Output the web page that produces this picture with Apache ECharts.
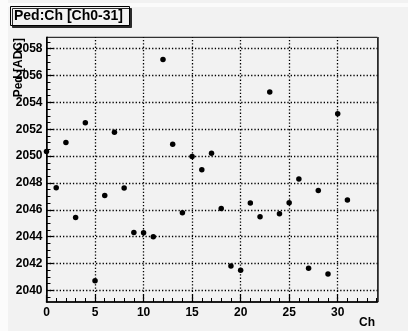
<!DOCTYPE html>
<html>
<head>
<meta charset="utf-8">
<script src="https://cdn.jsdelivr.net/npm/echarts@6/dist/echarts.min.js"></script>
<style>
  html, body { margin: 0; padding: 0; background: #f2f2f2; }
  #chart { width: 408px; height: 331px; }
</style>
</head>
<body>
<div id="chart"></div>
<script>
// Pedestal per channel, channels 0-31
const channels = [0, 1, 2, 3, 4, 5, 6, 7, 8, 9, 10, 11, 12, 13, 14, 15,
                  16, 17, 18, 19, 20, 21, 22, 23, 24, 25, 26, 27, 28, 29, 30, 31];
const pedestals = [2050.34, 2047.65, 2051.01, 2045.43, 2052.49, 2040.71, 2047.07, 2051.78,
                   2047.63, 2044.30, 2044.28, 2044.00, 2057.19, 2050.89, 2045.78, 2049.97,
                   2048.98, 2050.22, 2046.10, 2041.82, 2041.50, 2046.50, 2045.48, 2054.77,
                   2045.70, 2046.52, 2048.30, 2041.65, 2047.43, 2041.21, 2053.16, 2046.72];

// Axis ranges and tick positions
const xRange = [0, 34.1];
const yRange = [2039.13, 2058.85];
const xMajorTicks = [0, 5, 10, 15, 20, 25, 30];
const xMinorTicks = [1, 2, 3, 4, 6, 7, 8, 9, 11, 12, 13, 14, 16, 17, 18, 19,
                     21, 22, 23, 24, 26, 27, 28, 29, 31, 32, 33, 34];
const yMajorTicks = [2040, 2042, 2044, 2046, 2048, 2050, 2052, 2054, 2056, 2058];
const yMinorTicks = [2039.5, 2040.5, 2041, 2041.5, 2042.5, 2043, 2043.5, 2044.5, 2045, 2045.5,
                     2046.5, 2047, 2047.5, 2048.5, 2049, 2049.5, 2050.5, 2051, 2051.5,
                     2052.5, 2053, 2053.5, 2054.5, 2055, 2055.5, 2056.5, 2057, 2057.5, 2058.5];

const FONT = '"Liberation Sans", Arial, Helvetica, sans-serif';
const chart = echarts.init(document.getElementById('chart'), null, { renderer: 'canvas' });

const plain = v => String(v);
const dotted = { color: '#000', width: 1.3, type: [1.3, 2], opacity: 1 };

const option = {
  backgroundColor: '#f2f2f2',
  animation: false,
  title: {
    text: 'Ped:Ch [Ch0-31]',
    left: 10,
    top: 6,
    padding: [3, 7, 3, 4],
    backgroundColor: '#f2f2f2',
    borderColor: '#000',
    borderWidth: 1,
    shadowColor: '#2a2a2a',
    shadowOffsetX: 2,
    shadowOffsetY: 2,
    shadowBlur: 0,
    textStyle: { fontFamily: FONT, fontWeight: 'bold', fontSize: 14, color: '#000' }
  },
  graphic: [
    { type: 'rect', shape: { x: 0, y: 0, width: 8, height: 331 }, style: { fill: '#fbfbfb' }, z: -10 },
    { type: 'rect', shape: { x: 0, y: 3, width: 408, height: 4 }, style: { fill: '#fbfbfb' }, z: -10 },
    {
      type: 'text', x: 19, y: 38, rotation: Math.PI / 2,
      style: { text: 'Ped [ADC]', font: 'bold 12px ' + FONT, fill: '#000',
               align: 'right', verticalAlign: 'middle' }
    },
    {
      type: 'text', x: 375, y: 323,
      style: { text: 'Ch', font: 'bold 12px ' + FONT, fill: '#000',
               align: 'right', verticalAlign: 'middle' }
    },
    // right-hand frame shadow
    { type: 'rect', shape: { x: 377.5, y: 37, width: 1.5, height: 265 }, style: { fill: '#555' } }
  ],
  grid: {
    left: 46.5, right: 30.5, top: 37.3, bottom: 29,
    show: true, borderColor: '#000', borderWidth: 1, backgroundColor: 'transparent'
  },
  xAxis: [
    {
      type: 'value', min: xRange[0], max: xRange[1], position: 'bottom',
      axisLine: { show: true, lineStyle: { color: '#000', width: 1.5 } },
      axisTick: { show: true, inside: true, length: 7, customValues: xMajorTicks,
                  lineStyle: { color: '#000', width: 1.2 } },
      axisLabel: { show: true, customValues: xMajorTicks, margin: 5, color: '#000', formatter: plain,
                   fontFamily: FONT, fontWeight: 'bold', fontSize: 12 },
      splitLine: { show: false },
      z: 5
    },
    {
      type: 'value', min: xRange[0], max: xRange[1], position: 'bottom',
      axisLine: { show: false },
      axisTick: { show: true, inside: true, length: 4, customValues: xMinorTicks,
                  lineStyle: { color: '#000', width: 1 } },
      axisLabel: { show: false },
      splitLine: { show: false }
    }
  ],
  yAxis: [
    {
      type: 'value', min: yRange[0], max: yRange[1], position: 'left',
      axisLine: { show: true, lineStyle: { color: '#000', width: 1.5 } },
      axisTick: { show: true, inside: true, length: 7, customValues: yMajorTicks,
                  lineStyle: { color: '#000', width: 1.2 } },
      axisLabel: { show: true, customValues: yMajorTicks, margin: 4, color: '#000', formatter: plain,
                   fontFamily: FONT, fontWeight: 'bold', fontSize: 12 },
      splitLine: { show: false },
      z: 5
    },
    {
      type: 'value', min: yRange[0], max: yRange[1], position: 'left',
      axisLine: { show: false },
      axisTick: { show: true, inside: true, length: 4, customValues: yMinorTicks,
                  lineStyle: { color: '#000', width: 1 } },
      axisLabel: { show: false },
      splitLine: { show: false }
    }
  ],
  series: [
    {
      // dotted grid at the major tick values
      type: 'line', data: [], silent: true,
      markLine: {
        silent: true, symbol: 'none', animation: false,
        label: { show: false },
        emphasis: { disabled: true },
        lineStyle: dotted,
        data: xMajorTicks.filter(v => v > xRange[0]).map(v => ({ xAxis: v }))
          .concat(yMajorTicks.map(v => ({ yAxis: v })))
      }
    },
    {
      type: 'scatter',
      symbol: 'circle',
      symbolSize: 5.5,
      itemStyle: { color: '#000', opacity: 1 },
      data: channels.map((c, i) => [c, pedestals[i]]),
      z: 10
    }
  ]
};

chart.setOption(option);
</script>
</body>
</html>
